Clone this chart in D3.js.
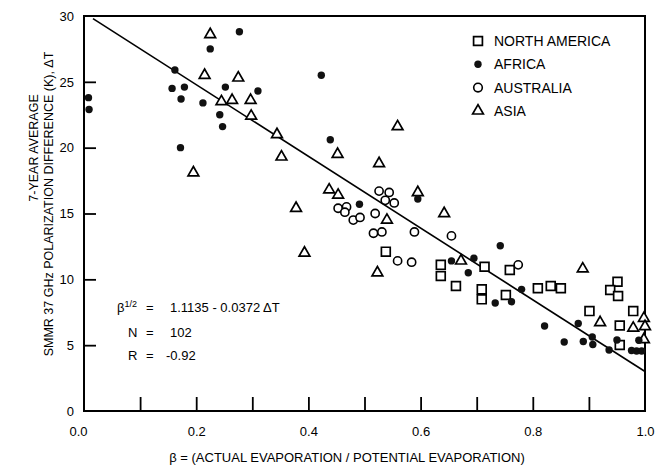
<!DOCTYPE html>
<html lang="en">
<head>
<meta charset="UTF-8">
<title>Polarization difference vs evaporation ratio</title>
<script src="https://d3js.org/d3.v7.min.js"></script>
<style>
  body { margin: 0; background: #fff; }
  svg { display: block; font-family: "Liberation Sans", Arial, sans-serif; }
</style>
</head>
<body>
<div id="chart"></div>
<script>
// points are [beta, deltaT]
const northAmerica = [
  [0.538, 12.1], [0.636, 11.1], [0.636, 10.25], [0.714, 10.96], [0.663, 9.49],
  [0.759, 10.71], [0.709, 9.24], [0.709, 8.48], [0.752, 8.81], [0.809, 9.32],
  [0.832, 9.49], [0.850, 9.32], [0.951, 9.82], [0.938, 9.19], [0.952, 8.73],
  [0.901, 7.59], [0.979, 7.59], [0.955, 6.49], [0.955, 5.01]
];
const africa = [
  [0.008, 23.8], [0.009, 22.9], [0.162, 25.9], [0.157, 24.5], [0.179, 24.6],
  [0.173, 23.7], [0.172, 20.0], [0.212, 23.4], [0.225, 27.5], [0.277, 28.8],
  [0.252, 24.6], [0.242, 22.5], [0.247, 21.6], [0.310, 24.3], [0.423, 25.5],
  [0.439, 20.6], [0.491, 15.7], [0.595, 16.1], [0.655, 11.4], [0.695, 11.6],
  [0.685, 10.5], [0.742, 12.55], [0.733, 8.2], [0.762, 8.3], [0.780, 9.24],
  [0.821, 6.46], [0.856, 5.24], [0.881, 6.65], [0.890, 5.28], [0.906, 5.62],
  [0.907, 5.05], [0.936, 4.63], [0.950, 5.39], [0.989, 5.37], [0.976, 4.59],
  [0.985, 4.56], [0.994, 4.56]
];
const australia = [
  [0.526, 16.7], [0.544, 16.6], [0.537, 16.0], [0.553, 15.8], [0.453, 15.4],
  [0.468, 15.5], [0.465, 15.1], [0.480, 14.5], [0.492, 14.7], [0.519, 15.0],
  [0.516, 13.5], [0.531, 13.6], [0.589, 13.6], [0.559, 11.4], [0.584, 11.3],
  [0.655, 13.3], [0.774, 11.1]
];
const asia = [
  [0.225, 28.6], [0.215, 25.5], [0.275, 25.3], [0.245, 23.5], [0.264, 23.6],
  [0.297, 23.6], [0.298, 22.4], [0.195, 18.1], [0.344, 21.0], [0.352, 19.3],
  [0.452, 19.5], [0.378, 15.4], [0.437, 16.8], [0.453, 16.4], [0.393, 12.0],
  [0.559, 21.6], [0.526, 18.8], [0.642, 15.0], [0.595, 16.6], [0.540, 14.5],
  [0.523, 10.5], [0.672, 11.4], [0.889, 10.8], [0.920, 6.72], [0.979, 6.3],
  [0.998, 7.04], [1.0, 6.42], [0.998, 5.43]
];
// regression line end points
const fitLine = [[0.016, 29.8], [1.0, 3.0]];

const xTickMarks = [0.1, 0.2, 0.3, 0.4, 0.5, 0.6, 0.7, 0.8, 0.9];
const xTickLabels = [0, 0.2, 0.4, 0.6, 0.8, 1.0];
const yTickMarks = [5, 10, 15, 20, 25];
const yTickLabels = [0, 5, 10, 15, 20, 25, 30];
const legendLabels = ["NORTH AMERICA", "AFRICA", "AUSTRALIA", "ASIA"];
const yTitle = ["7-YEAR AVERAGE", "SMMR 37 GHz POLARIZATION DIFFERENCE (K), \u0394T"];
const xTitle = "\u03b2 = (ACTUAL EVAPORATION / POTENTIAL EVAPORATION)";
const statNames = ["N", "R"];
const statValues = ["102", "-0.92"];

const width = 656, height = 465;
const x = d3.scaleLinear().domain([0, 1]).range([84, 645]);
const y = d3.scaleLinear().domain([0, 30]).range([411, 16]);

const svg = d3.select("#chart").append("svg")
  .attr("width", width).attr("height", height);

// inward tick marks
svg.append("g")
  .attr("transform", "translate(0," + y(0) + ")")
  .call(d3.axisBottom(x).tickValues(xTickMarks).tickSize(-14).tickFormat(""))
  .call(g => g.select(".domain").remove())
  .selectAll("line").attr("stroke-width", 1.8);

svg.append("g")
  .attr("transform", "translate(" + x(0) + ",0)")
  .call(d3.axisLeft(y).tickValues(yTickMarks).tickSize(-12).tickFormat(""))
  .call(g => g.select(".domain").remove())
  .selectAll("line").attr("stroke-width", 1.8);

// tick labels
svg.append("g")
  .attr("transform", "translate(0," + y(0) + ")")
  .call(d3.axisBottom(x).tickValues(xTickLabels).tickSize(0).tickPadding(16)
    .tickFormat(d3.format(".1f")))
  .call(g => g.select(".domain").remove())
  .selectAll("text")
    .attr("font-size", 13).attr("fill", "#000")
    .attr("font-family", "'Liberation Sans', Arial, sans-serif")
    .attr("dx", (d, i) => i == 0 ? -6 : 0);

svg.append("g")
  .attr("transform", "translate(" + x(0) + ",0)")
  .call(d3.axisLeft(y).tickValues(yTickLabels).tickSize(0).tickPadding(10))
  .call(g => g.select(".domain").remove())
  .selectAll("text")
    .attr("font-size", 13).attr("fill", "#000")
    .attr("font-family", "'Liberation Sans', Arial, sans-serif");

// frame
svg.append("rect")
  .attr("x", x(0)).attr("y", y(30))
  .attr("width", x(1) - x(0)).attr("height", y(0) - y(30))
  .attr("fill", "none").attr("stroke", "#000").attr("stroke-width", 2);

// regression line
svg.append("path")
  .datum(fitLine)
  .attr("d", d3.line().x(d => x(d[0])).y(d => y(d[1])))
  .attr("fill", "none").attr("stroke", "#000").attr("stroke-width", 1.6);

const sq = d3.symbol().type(d3.symbolSquare).size(78);
const tri = d3.symbol().type(d3.symbolTriangle).size(50);

svg.append("g").selectAll("path")
  .data(northAmerica).join("path")
  .attr("d", sq)
  .attr("transform", d => "translate(" + x(d[0]) + "," + y(d[1]) + ")")
  .attr("fill", "#fff").attr("stroke", "#000").attr("stroke-width", 1.7);

svg.append("g").selectAll("circle")
  .data(australia).join("circle")
  .attr("cx", d => x(d[0])).attr("cy", d => y(d[1])).attr("r", 4.1)
  .attr("fill", "#fff").attr("stroke", "#000").attr("stroke-width", 1.6);

svg.append("g").selectAll("path")
  .data(asia).join("path")
  .attr("d", tri)
  .attr("transform", d => "translate(" + x(d[0]) + "," + y(d[1]) + ")")
  .attr("fill", "#fff").attr("stroke", "#000").attr("stroke-width", 1.7);

svg.append("g").selectAll("circle")
  .data(africa).join("circle")
  .attr("cx", d => x(d[0])).attr("cy", d => y(d[1])).attr("r", 3.7)
  .attr("fill", "#111");

// legend
const leg = svg.append("g").attr("transform", "translate(478,41)");
legendLabels.forEach((name, i) => {
  const row = leg.append("g").attr("transform", "translate(0," + (i * 23.3) + ")");
  if (i == 0) row.append("path").attr("d", sq).attr("fill", "#fff").attr("stroke", "#000").attr("stroke-width", 1.7);
  if (i == 1) row.append("circle").attr("r", 3.7).attr("fill", "#111");
  if (i == 2) row.append("circle").attr("r", 4.3).attr("fill", "#fff").attr("stroke", "#000").attr("stroke-width", 1.6);
  if (i == 3) row.append("path").attr("d", tri).attr("fill", "#fff").attr("stroke", "#000").attr("stroke-width", 1.7);
  row.append("text").attr("x", 16).attr("y", 5)
    .attr("font-size", 14).text(name);
});

// regression equation and stats
const eq = svg.append("text").attr("x", 117).attr("y", 312).attr("font-size", 13);
eq.append("tspan").text("\u03b2");
eq.append("tspan").attr("dy", -5).attr("font-size", 9).text("1/2");
eq.append("tspan").attr("x", 146).attr("dy", 5).text("=");
eq.append("tspan").attr("x", 170).text("1.1135 - 0.0372 \u0394T");

statNames.forEach((s, i) => {
  const t = svg.append("text").attr("y", 337 + i * 23).attr("font-size", 13);
  t.append("tspan").attr("x", 128).text(s);
  t.append("tspan").attr("x", 146).text("=");
  t.append("tspan").attr("x", i == 0 ? 170 : 166).text(statValues[i]);
});

// axis titles
svg.append("text")
  .attr("x", 347).attr("y", 462)
  .attr("text-anchor", "middle").attr("font-size", 13)
  .text(xTitle);

svg.append("text")
  .attr("transform", "translate(38,148) rotate(-90)")
  .attr("text-anchor", "middle").attr("font-size", 12.5)
  .text(yTitle[0]);
svg.append("text")
  .attr("transform", "translate(53,204) rotate(-90)")
  .attr("text-anchor", "middle").attr("font-size", 12.5)
  .text(yTitle[1]);
</script>
</body>
</html>
